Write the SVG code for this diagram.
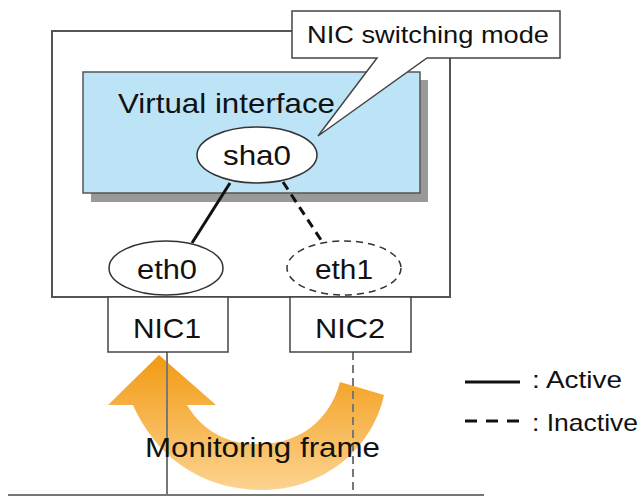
<svg xmlns="http://www.w3.org/2000/svg" width="642" height="496" viewBox="0 0 642 496">
<defs>
<style>
text{font-family:"Liberation Sans",Arial,sans-serif;fill:#111}
.node{fill:#fff;stroke:#333;stroke-width:1.5}
.box{fill:#fff;stroke:#444;stroke-width:1.5}
.wire{stroke:#777;stroke-width:2;fill:none}
</style>
<linearGradient id="og" x1="0" y1="355" x2="0" y2="490" gradientUnits="userSpaceOnUse">
<stop offset="0" stop-color="#F29A12"/>
<stop offset="1" stop-color="#FCD390"/>
</linearGradient>
</defs>
<rect width="642" height="496" fill="#fff"/>
<g id="host">
<rect x="52" y="31" width="398" height="266" fill="#fff" stroke="#555" stroke-width="2"/>
</g>
<g id="virtual-interface">
<rect x="91" y="80" width="337" height="122" fill="#999"/>
<rect x="83" y="72" width="337" height="121" fill="#BDE3F7" stroke="#555" stroke-width="1.5"/>
<text x="118" y="113" font-size="28" textLength="217" lengthAdjust="spacingAndGlyphs">Virtual interface</text>
</g>
<g id="callout">
<path d="M292,11 H560 V58 H427 L318,136 L377,58 H292 Z" fill="#fff" stroke="#444" stroke-width="1.5" stroke-linejoin="miter"/>
<text x="307" y="43" font-size="24" textLength="242" lengthAdjust="spacingAndGlyphs">NIC switching mode</text>
</g>
<g id="monitoring-arrow">
<path d="M108,405 L159,355 L216,405 L187,405 C205,435 232,445 262,444 C300,443 330,420 340,382 L384,395 C372,450 322,490 262,490 C200,490 155,455 133,405 Z" fill="url(#og)"/>
</g>
<g id="connectors">
<line x1="230" y1="183" x2="192" y2="243" stroke="#111" stroke-width="3"/>
<line x1="283" y1="182" x2="323" y2="243" stroke="#111" stroke-width="3" stroke-dasharray="9 6"/>
<line class="wire" x1="167" y1="352" x2="167" y2="495"/>
<line class="wire" x1="353" y1="352" x2="353" y2="495" stroke-dasharray="8 5"/>
<line class="wire" x1="8" y1="495" x2="484" y2="495"/>
</g>
<g id="sha0">
<ellipse class="node" cx="257" cy="155" rx="60" ry="28"/>
<text x="257" y="165" font-size="28" text-anchor="middle" textLength="68" lengthAdjust="spacingAndGlyphs">sha0</text>
</g>
<g id="eth0">
<ellipse class="node" cx="166" cy="268" rx="57" ry="27"/>
<text x="167" y="279" font-size="27" text-anchor="middle" textLength="60" lengthAdjust="spacingAndGlyphs">eth0</text>
</g>
<g id="eth1">
<ellipse class="node" cx="344" cy="268" rx="57" ry="27" stroke-dasharray="7 5"/>
<text x="344" y="279" font-size="27" text-anchor="middle" textLength="58" lengthAdjust="spacingAndGlyphs">eth1</text>
</g>
<g id="NIC1">
<rect class="box" x="108" y="297" width="120" height="55"/>
<text x="167" y="338" font-size="28" text-anchor="middle" textLength="68" lengthAdjust="spacingAndGlyphs">NIC1</text>
</g>
<g id="NIC2">
<rect class="box" x="290" y="297" width="121" height="55"/>
<text x="350" y="338" font-size="28" text-anchor="middle" textLength="70" lengthAdjust="spacingAndGlyphs">NIC2</text>
</g>
<text x="145" y="457" font-size="28" textLength="235" lengthAdjust="spacingAndGlyphs">Monitoring frame</text>
<g id="legend">
<line x1="465" y1="382" x2="520" y2="382" stroke="#111" stroke-width="3"/>
<text x="532" y="388" font-size="24" textLength="90" lengthAdjust="spacingAndGlyphs">: Active</text>
<line x1="465" y1="421" x2="520" y2="421" stroke="#111" stroke-width="3" stroke-dasharray="12 9"/>
<text x="532" y="431" font-size="24" textLength="106" lengthAdjust="spacingAndGlyphs">: Inactive</text>
</g>
</svg>
